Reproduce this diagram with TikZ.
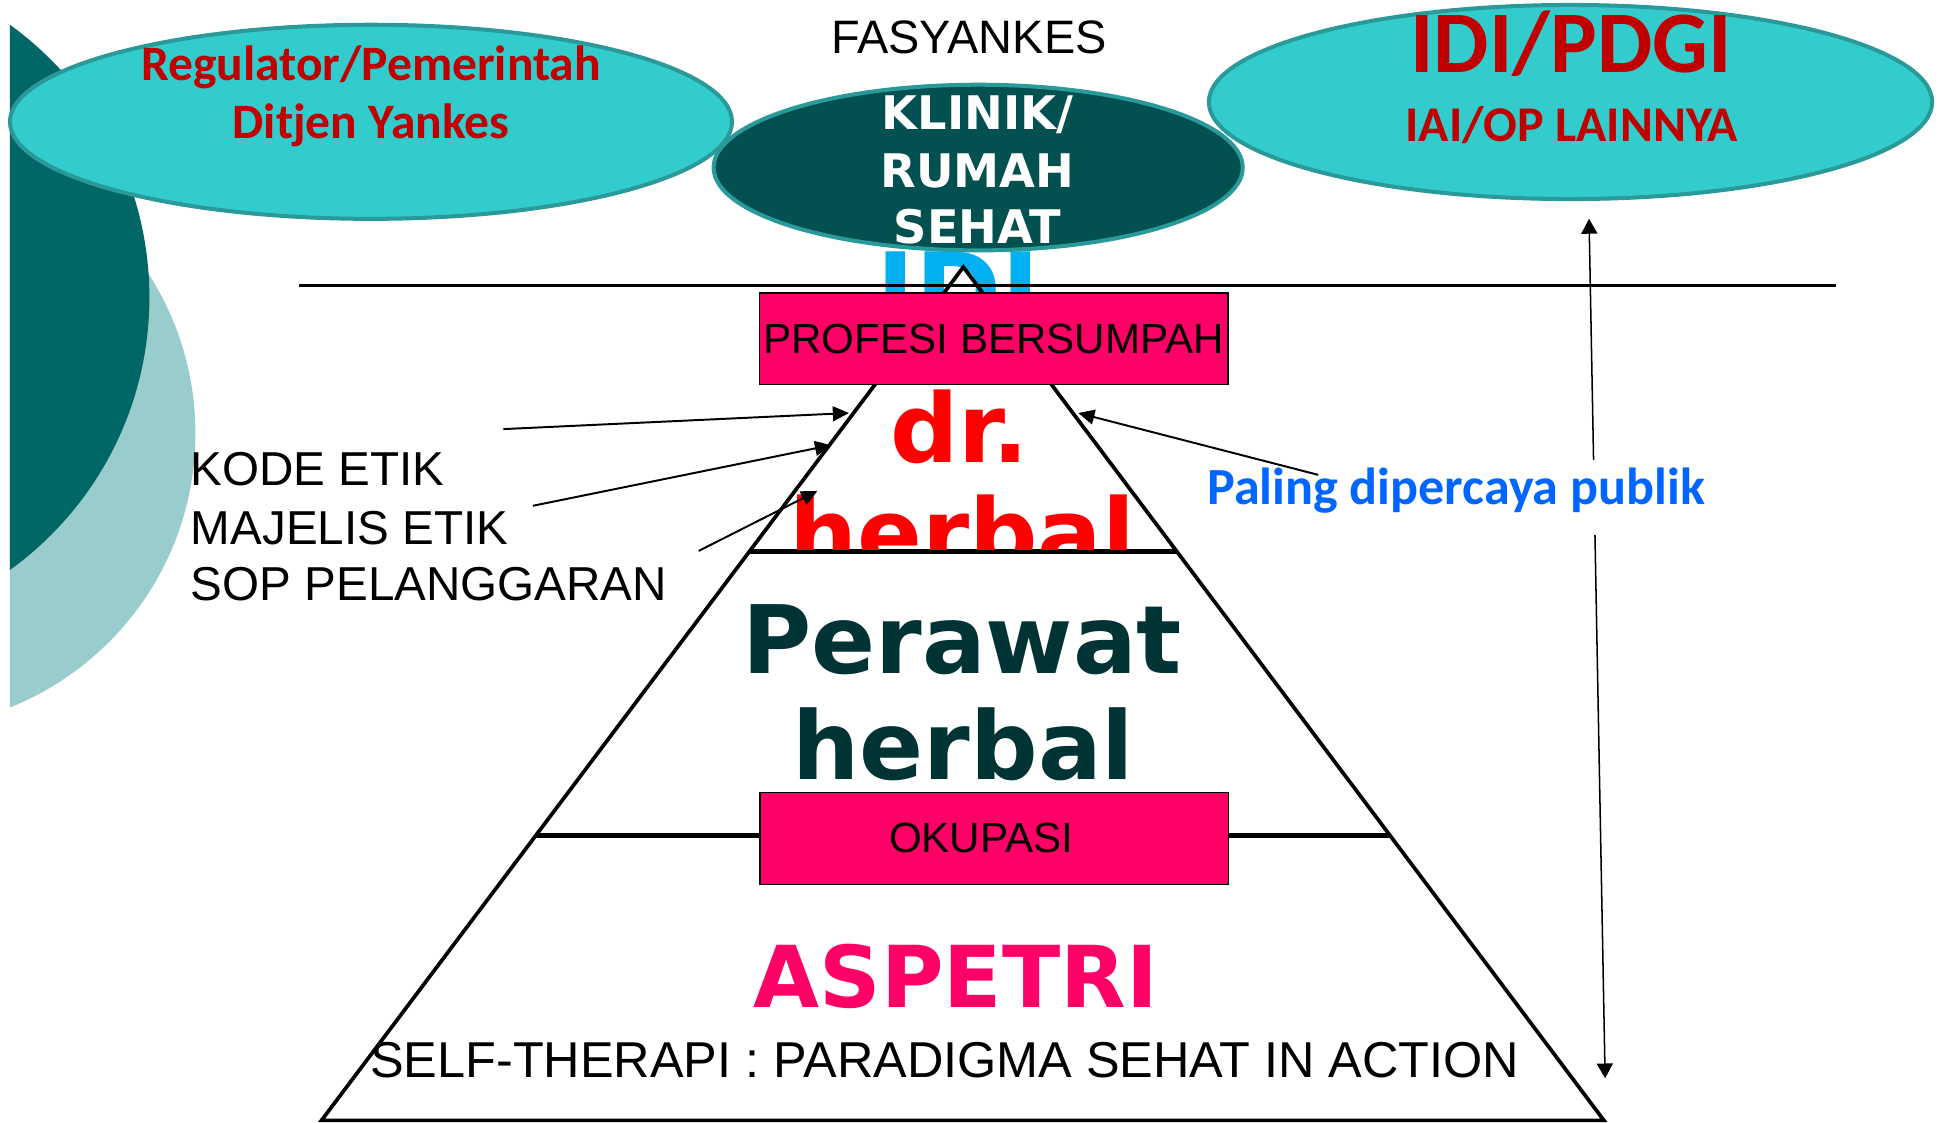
\documentclass[tikz,border=0pt]{standalone}
\usepackage{fontspec}
\setmainfont{Liberation Sans}
\newfontfamily\calibri{Carlito}
\newfontfamily\verdana{DejaVu Sans}
\usepackage{xcolor}
\usepackage{tikz}
\usetikzlibrary{arrows.meta,positioning,shapes.geometric,calc}
\definecolor{DecoDark}{HTML}{006666}
\definecolor{DecoLight}{HTML}{99CCCC}
\definecolor{OvalFill}{HTML}{33CCCC}
\definecolor{OvalLine}{HTML}{2A9999}
\definecolor{OvalDark}{HTML}{035050}
\definecolor{DarkRed}{HTML}{C00000}
\definecolor{PinkBox}{HTML}{FF0066}
\definecolor{SkyBlue}{HTML}{00B0F0}
\definecolor{DeepTeal}{HTML}{003333}
\definecolor{Publik}{HTML}{0066FF}
\newcommand{\fsz}[1]{\fontsize{#1}{#1}\selectfont}

\begin{document}
\begin{tikzpicture}[x=0.02cm,y=-0.02cm]
  \tikzstyle{oval}=[ellipse,draw=OvalLine,line width=0.065cm,fill=OvalFill,inner sep=0pt]
  \tikzstyle{pinkbox}=[draw,line width=0.6pt,fill=PinkBox,minimum width=7.58cm,minimum height=1.48cm,inner sep=0pt,font=\fsz{19.4pt}]
  \tikzstyle{ovaltext}=[anchor=base,text=DarkRed,font=\calibri\bfseries\fsz{22.8pt}]
  \tikzstyle{klinik}=[anchor=base,text=white,font=\verdana\bfseries\fsz{21.3pt}]
  \tikzstyle{etik}=[anchor=base west,inner sep=0pt,font=\fsz{21.9pt}]
  \tikzstyle{arr}=[line width=0.9pt,-{Triangle[length=0.26cm,width=0.24cm]}]
  \tikzstyle{layer}=[line width=2.3pt]
  \useasboundingbox (0,0) rectangle (1568,908);
  \fill[white] (0,0) rectangle (1568,908);
  % left decoration
  \begin{scope}
    \clip (8,0) rectangle (400,908);
    \fill[DecoLight] (-80.6,350.5) circle[radius=238.6];
    \fill[DecoDark] (-151,240.5) circle[radius=271.8];
  \end{scope}
  \node[anchor=base,text=SkyBlue,font=\verdana\bfseries\fsz{47.8pt}] (idi) at (775,265) {IDI};
  % top ovals
  \node[oval,minimum width=11.68cm,minimum height=3.14cm] (reg) at (300,98.5) {};
  \node[oval,fill=OvalDark,minimum width=8.56cm,minimum height=2.68cm] (rs) at (791,135.5) {};
  \node[oval,minimum width=11.7cm,minimum height=3.14cm] (op) at (1270,82.5) {};
  \node[ovaltext] (reg1) at (300,65.5) {Regulator/Pemerintah};
  \node[ovaltext] (reg2) at (300,112) {Ditjen Yankes};
  \node[klinik] (rs1) at (790.5,105) {KLINIK/};
  \node[klinik] (rs2) at (790.5,152) {RUMAH};
  \node[klinik] (rs3) at (790.5,197) {SEHAT};
  \node[ovaltext,font=\calibri\bfseries\fsz{40.4pt}] (op1) at (1270.5,58.8) {IDI/PDGI};
  \node[ovaltext,font=\calibri\bfseries\fsz{23pt}] (op2) at (1271,114.6) {IAI/OP LAINNYA};
  \node[anchor=base,font=\fsz{21.6pt}] (fas) at (783.5,43) {FASYANKES};
  % pyramid
  \coordinate (hl) at (242,231);
  \coordinate (hr) at (1485,231);
  \draw[line width=1.4pt] (hl) -- (hr);
  \coordinate (apex) at (779,216);
  \coordinate (bl) at (260,906);
  \coordinate (br) at (1297,906);
  \draw[line width=1.7pt] (apex) -- (bl) -- (br) -- cycle;
  \draw[layer] ($(apex)!1/3!(bl)$) -- ($(apex)!1/3!(br)$);
  \draw[layer] ($(apex)!2/3!(bl)$) -- ($(apex)!2/3!(br)$);
  \begin{scope}
    \clip (0,0) rectangle (1568,444);
    \node[anchor=base,text=red,font=\verdana\bfseries\fsz{44pt}] (dr) at (776,374) {dr.};
    \node[anchor=base,text=red,font=\verdana\bfseries\fsz{44pt}] (drherbal) at (778,459) {herbal};
  \end{scope}
  \node[anchor=base,text=DeepTeal,font=\verdana\bfseries\fsz{43.5pt}] (perawat) at (778,545) {Perawat};
  \node[anchor=base,text=DeepTeal,font=\verdana\bfseries\fsz{43.5pt}] (pherbal) at (779,630) {herbal};
  \node[pinkbox] (profesi) at (803.5,274) {PROFESI BERSUMPAH};
  \node[pinkbox] (okupasi) at (804,678) {\hspace*{-12pt}OKUPASI};
  \node[anchor=base,text=PinkBox,font=\verdana\bfseries\fsz{39.3pt}] (aspetri) at (773,815) {ASPETRI};
  \node[anchor=base,font=\fsz{23.2pt}] (self) at (764,871) {SELF-THERAPI : PARADIGMA SEHAT IN ACTION};
  % etik
  \node[etik] (kode) at (154,393) {KODE ETIK};
  \node[etik] (majelis) at (154,440) {MAJELIS ETIK};
  \node[etik] (sop) at (154,485.7) {SOP PELANGGARAN};
  \coordinate (a1) at (407,347);
  \coordinate (t1) at (686.5,334);
  \coordinate (a2) at (431,409);
  \coordinate (t2) at (672,360);
  \coordinate (a3) at (565,445.5);
  \coordinate (t3) at (661,397);
  \draw[arr] (a1) -- (t1);
  \draw[arr] (a2) -- (t2);
  \draw[arr] (a3) -- (t3);
  % publik
  \coordinate (vtop) at (1285,177);
  \coordinate (vbot) at (1298,872);
  \draw[line width=0.7pt,{Triangle[length=0.24cm,width=0.26cm]}-{Triangle[length=0.24cm,width=0.26cm]}] (vtop) -- (vbot);
  \node[anchor=base,fill=white,text=Publik,font=\calibri\bfseries\fsz{24pt},text height=0.72cm,text depth=0.5cm,inner ysep=0pt,inner xsep=2pt] (publik) at (1177.5,408) {Paling dipercaya publik};
  \coordinate (a4) at (1066,384);
  \coordinate (t4) at (872,334);
  \draw[arr] (a4) -- (t4);
\end{tikzpicture}
\end{document}
